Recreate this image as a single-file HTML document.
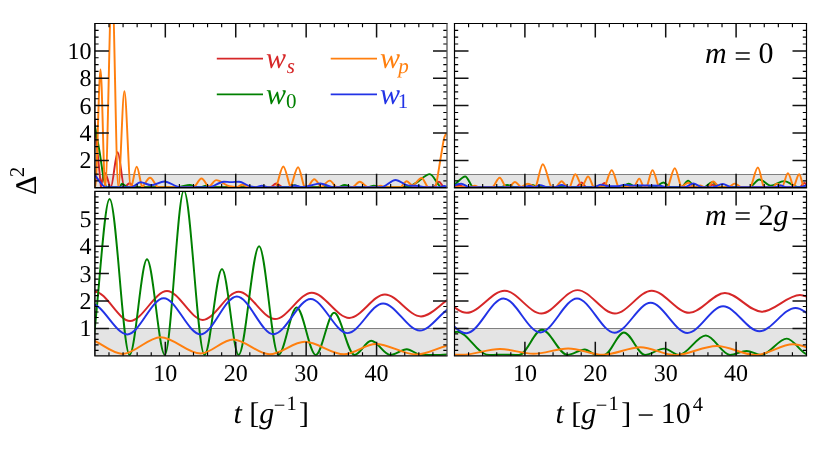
<!DOCTYPE html>
<html><head><meta charset="utf-8"><title>Figure</title>
<style>
html,body{margin:0;padding:0;background:#fff;}
body{width:830px;height:451px;overflow:hidden;font-family:"Liberation Serif",serif;}
svg{display:block;}
text{font-family:"Liberation Serif",serif;fill:#000;text-rendering:geometricPrecision;}
svg{will-change:transform;}
.i{font-style:italic;}
</style></head><body>
<svg width="830" height="451" viewBox="0 0 830 451">
<rect width="830" height="451" fill="#fff"/>
<defs>
<clipPath id="cTL"><rect x="94.9" y="23.5" width="352.10" height="164.25"/></clipPath>
<clipPath id="cTR"><rect x="454.5" y="23.5" width="352.00" height="164.25"/></clipPath>
<clipPath id="cBL"><rect x="94.9" y="191.4" width="352.10" height="164.45"/></clipPath>
<clipPath id="cBR"><rect x="454.5" y="191.4" width="352.00" height="164.45"/></clipPath>
</defs>
<g id="pTL">
<rect x="94.9" y="174.06" width="352.10" height="13.69" fill="#e4e4e4"/><path d="M94.9 174.50 H447.0" stroke="#808080" stroke-width="1" fill="none"/>
<path d="M92.5 100.0C93.3 108.3 94.1 116.7 94.9 125.0C95.7 133.3 96.5 141.8 97.3 150.0C98.5 162.6 99.8 175.0 101.0 187.2C102.3 179.2 103.7 173.0 105.0 173.0C106.9 173.0 108.9 187.2 110.8 187.2C113.1 187.2 115.4 152.2 117.7 152.2C119.9 152.2 122.2 187.2 124.4 187.2C126.1 187.2 127.8 183.3 129.5 183.3C131.0 183.3 132.5 186.4 134.0 187.2H271.0C272.7 186.4 274.5 183.4 276.2 183.4C278.3 183.4 280.3 186.4 282.4 187.2H434.1C435.7 186.1 437.3 181.8 438.9 181.8C440.5 181.8 442.1 186.1 443.7 187.2H447.0" stroke="#d62728" stroke-width="1.95" fill="none" stroke-linejoin="round" clip-path="url(#cTL)"/>
<path d="M91.0 108.0C92.3 114.0 93.6 120.2 94.9 126.8C96.5 134.7 98.0 142.8 99.6 151.9C101.1 160.4 102.5 174.1 104.0 179.8C104.8 183.0 105.7 187.2 106.5 187.2H119.6C120.4 187.2 121.2 183.6 122.0 183.6C123.9 183.6 125.7 187.2 127.6 187.2H178.0C181.9 187.2 185.9 184.9 189.8 184.9C192.3 184.9 194.9 187.2 197.4 187.2H201.0C202.7 187.2 204.3 185.7 206.0 185.7C207.7 185.7 209.3 187.2 211.0 187.2H288.0C290.1 187.2 292.2 185.2 294.3 185.2C296.2 185.2 298.1 187.2 300.0 187.2H338.0C340.2 187.2 342.4 184.9 344.6 184.9C347.1 184.9 349.5 187.2 352.0 187.2H368.0C370.0 187.2 371.9 185.6 373.9 185.6C375.9 185.6 378.0 187.2 380.0 187.2H406.0C409.4 187.2 412.9 184.5 416.3 182.8C420.8 180.5 425.3 174.1 429.8 174.1C433.8 174.1 437.8 187.2 441.8 187.2H447.0" stroke="#008000" stroke-width="1.95" fill="none" stroke-linejoin="round" clip-path="url(#cTL)"/>
<path d="M90.0 187.2H95.3C97.0 187.2 98.8 69.4 100.5 69.4C102.1 69.4 103.6 187.2 105.2 187.2C107.5 187.2 109.7 -17.0 112.0 -17.0C114.1 -17.0 116.2 187.2 118.3 187.2C120.3 187.2 122.4 91.2 124.4 91.2C126.5 91.2 128.7 187.2 130.8 187.2C132.8 187.2 134.7 166.8 136.7 166.8C138.5 166.8 140.3 183.1 142.1 187.2C144.7 185.3 147.4 177.7 150.0 177.7C152.6 177.7 155.2 185.3 157.8 187.2H194.1C196.6 185.4 199.0 178.4 201.5 178.4C203.9 178.4 206.4 185.4 208.8 187.2C211.3 185.7 213.8 180.1 216.3 180.1C220.6 180.1 225.0 185.4 229.3 186.2C231.8 186.7 234.4 187.0 236.9 187.2C238.7 186.7 240.5 184.7 242.3 184.7C244.5 184.7 246.6 186.7 248.8 187.2H275.9C278.4 183.0 280.8 166.5 283.3 166.5C285.7 166.5 288.1 183.0 290.5 187.2C293.0 183.2 295.6 167.3 298.1 167.3C300.2 167.3 302.4 183.2 304.5 187.2H307.5C309.8 185.6 312.0 179.3 314.3 179.3C316.6 179.3 319.0 185.6 321.3 187.2C324.1 185.8 326.9 180.6 329.7 180.6C332.0 180.6 334.2 185.8 336.5 187.2H352.8C355.1 186.1 357.5 181.8 359.8 181.8C362.3 181.8 364.9 186.1 367.4 187.2H376.0C377.5 186.9 379.1 185.8 380.6 185.8C382.1 185.8 383.5 186.9 385.0 187.2H400.8C402.7 186.0 404.7 181.3 406.6 181.3C408.5 181.3 410.5 185.2 412.4 185.2C415.5 185.2 418.5 178.0 421.6 178.0C423.7 178.0 425.7 185.3 427.8 187.2H435.5C437.3 180.9 439.2 166.1 441.0 156.0C442.2 149.4 443.4 139.3 444.6 136.6C445.4 134.8 446.2 133.3 447.0 133.0C447.7 132.7 448.3 132.5 449.0 132.5" stroke="#ff7f0e" stroke-width="1.95" fill="none" stroke-linejoin="round" clip-path="url(#cTL)"/>
<path d="M90.0 170.5C91.6 171.8 93.3 173.4 94.9 175.2C96.6 177.1 98.3 180.1 100.0 182.0C101.7 183.9 103.5 187.1 105.2 187.1H131.3C134.4 187.1 137.4 182.3 140.5 182.3C144.1 182.3 147.7 185.2 151.3 185.2C155.6 185.2 160.0 181.4 164.3 181.4C169.5 181.4 174.8 187.1 180.0 187.1H209.3C214.1 187.1 219.0 181.7 223.8 181.7C226.2 181.7 228.6 182.1 231.0 182.1C233.7 182.1 236.3 181.7 239.0 181.7C242.6 181.7 246.3 185.5 249.9 186.2C251.9 186.6 254.0 187.1 256.0 187.1C257.9 187.1 259.9 185.8 261.8 185.8C263.9 185.8 265.9 187.1 268.0 187.1H290.0C291.7 187.1 293.3 185.4 295.0 185.4C297.0 185.4 299.0 187.1 301.0 187.1C303.3 187.1 305.5 186.6 307.8 186.2C311.9 185.6 316.1 183.4 320.2 183.4C324.4 183.4 328.5 187.1 332.7 187.1H381.5C386.2 187.1 390.8 179.9 395.5 179.9C399.9 179.9 404.2 185.4 408.6 185.6C411.2 185.7 413.7 185.7 416.3 185.8C419.2 185.9 422.1 187.1 425.0 187.1H440.0C441.4 187.1 442.8 186.0 444.2 186.0C445.1 186.0 446.1 186.5 447.0 187.1" stroke="#2233e6" stroke-width="1.95" fill="none" stroke-linejoin="round" clip-path="url(#cTL)"/>
<path d="M165.32 23.5 v14.0 M165.32 187.75 v-14.0 M235.74 23.5 v14.0 M235.74 187.75 v-14.0 M306.16 23.5 v14.0 M306.16 187.75 v-14.0 M376.58 23.5 v14.0 M376.58 187.75 v-14.0 M94.9 160.38 h14.0 M447.0 160.38 h-14.0 M94.9 133.00 h14.0 M447.0 133.00 h-14.0 M94.9 105.62 h14.0 M447.0 105.62 h-14.0 M94.9 78.25 h14.0 M447.0 78.25 h-14.0 M94.9 50.88 h14.0 M447.0 50.88 h-14.0" stroke="#111" stroke-width="1.5" fill="none"/><path d="M108.98 23.5 v3.7 M108.98 187.75 v-3.7 M123.07 23.5 v3.7 M123.07 187.75 v-3.7 M137.15 23.5 v3.7 M137.15 187.75 v-3.7 M151.24 23.5 v3.7 M151.24 187.75 v-3.7 M179.40 23.5 v3.7 M179.40 187.75 v-3.7 M193.49 23.5 v3.7 M193.49 187.75 v-3.7 M207.57 23.5 v3.7 M207.57 187.75 v-3.7 M221.66 23.5 v3.7 M221.66 187.75 v-3.7 M249.82 23.5 v3.7 M249.82 187.75 v-3.7 M263.91 23.5 v3.7 M263.91 187.75 v-3.7 M277.99 23.5 v3.7 M277.99 187.75 v-3.7 M292.08 23.5 v3.7 M292.08 187.75 v-3.7 M320.24 23.5 v3.7 M320.24 187.75 v-3.7 M334.33 23.5 v3.7 M334.33 187.75 v-3.7 M348.41 23.5 v3.7 M348.41 187.75 v-3.7 M362.50 23.5 v3.7 M362.50 187.75 v-3.7 M390.66 23.5 v3.7 M390.66 187.75 v-3.7 M404.75 23.5 v3.7 M404.75 187.75 v-3.7 M418.83 23.5 v3.7 M418.83 187.75 v-3.7 M432.92 23.5 v3.7 M432.92 187.75 v-3.7 M94.9 180.91 h3.7 M447.0 180.91 h-3.7 M94.9 174.06 h3.7 M447.0 174.06 h-3.7 M94.9 167.22 h3.7 M447.0 167.22 h-3.7 M94.9 153.53 h3.7 M447.0 153.53 h-3.7 M94.9 146.69 h3.7 M447.0 146.69 h-3.7 M94.9 139.84 h3.7 M447.0 139.84 h-3.7 M94.9 126.16 h3.7 M447.0 126.16 h-3.7 M94.9 119.31 h3.7 M447.0 119.31 h-3.7 M94.9 112.47 h3.7 M447.0 112.47 h-3.7 M94.9 98.78 h3.7 M447.0 98.78 h-3.7 M94.9 91.94 h3.7 M447.0 91.94 h-3.7 M94.9 85.09 h3.7 M447.0 85.09 h-3.7 M94.9 71.41 h3.7 M447.0 71.41 h-3.7 M94.9 64.56 h3.7 M447.0 64.56 h-3.7 M94.9 57.72 h3.7 M447.0 57.72 h-3.7 M94.9 44.03 h3.7 M447.0 44.03 h-3.7 M94.9 37.19 h3.7 M447.0 37.19 h-3.7 M94.9 30.34 h3.7 M447.0 30.34 h-3.7" stroke="#000" stroke-width="1.15" fill="none"/>
<path d="M94.30000000000001 23.5 H447.6" stroke="#000" stroke-width="1.2" fill="none"/><path d="M94.30000000000001 187.75 H447.6" stroke="#000" stroke-width="1.4" fill="none"/><path d="M94.9 23.5 V187.75" stroke="#000" stroke-width="1.5" fill="none"/><path d="M447.0 23.5 V187.75" stroke="#555" stroke-width="1.3" fill="none"/>
</g>
<g id="pTR">
<rect x="454.5" y="174.06" width="352.00" height="13.69" fill="#e4e4e4"/><path d="M454.5 174.50 H806.5" stroke="#808080" stroke-width="1" fill="none"/>
<path d="M454.5 187.2C456.2 186.8 457.9 185.4 459.6 185.4C461.1 185.4 462.5 186.8 464.0 187.2H576.7C578.3 186.2 580.0 182.4 581.6 182.4C583.0 182.4 584.5 186.2 585.9 187.2H600.0C601.5 186.3 602.9 183.0 604.4 183.0C605.8 183.0 607.3 186.3 608.7 187.2H708.0C709.6 186.7 711.2 184.8 712.8 184.8C714.2 184.8 715.6 186.7 717.0 187.2H800.0C801.4 186.3 802.9 183.0 804.3 183.0C805.1 183.0 805.8 183.8 806.6 185.0" stroke="#d62728" stroke-width="1.95" fill="none" stroke-linejoin="round" clip-path="url(#cTR)"/>
<path d="M449.0 187.2C450.8 186.5 452.7 185.6 454.5 184.6C458.1 182.6 461.6 176.4 465.2 176.4C468.0 176.4 470.7 187.2 473.5 187.2H500.8C503.0 187.2 505.1 184.9 507.3 184.9C509.8 184.9 512.4 187.2 514.9 187.2H526.0C528.1 187.2 530.1 184.9 532.2 184.9C534.1 184.9 536.1 187.2 538.0 187.2H556.0C558.0 187.2 560.0 185.8 562.0 185.8C564.0 185.8 566.0 187.2 568.0 187.2H621.0C623.6 187.2 626.1 183.7 628.7 183.7C631.3 183.7 633.9 187.2 636.5 187.2H654.7C657.6 187.2 660.5 182.4 663.4 182.4C665.8 182.4 668.1 187.2 670.5 187.2H681.5C683.7 187.2 685.9 180.6 688.1 180.6C690.4 180.6 692.7 187.2 695.0 187.2H704.0C706.7 187.2 709.3 182.1 712.0 182.1C714.8 182.1 717.7 187.2 720.5 187.2H749.3C752.7 187.2 756.0 179.4 759.4 179.4C763.2 179.4 767.0 185.7 770.8 185.7C775.2 185.7 779.7 181.1 784.1 181.1C788.9 181.1 793.8 187.2 798.6 187.2C801.3 187.2 803.9 187.1 806.6 186.4" stroke="#008000" stroke-width="1.95" fill="none" stroke-linejoin="round" clip-path="url(#cTR)"/>
<path d="M454.5 187.2H470.0C471.6 186.9 473.2 185.8 474.8 185.8C476.2 185.8 477.6 186.9 479.0 187.2H492.7C495.0 185.3 497.4 177.7 499.7 177.7C501.7 177.7 503.7 185.3 505.7 187.2H509.5C511.3 186.1 513.1 181.9 514.9 181.9C516.9 181.9 518.9 186.1 520.9 187.2C523.2 186.5 525.6 183.8 527.9 183.8C530.5 183.8 533.0 186.5 535.6 187.2C538.0 182.6 540.4 164.3 542.8 164.3C545.6 164.3 548.5 182.6 551.3 187.2H556.1C557.9 186.0 559.8 181.3 561.6 181.3C563.4 181.3 565.2 186.0 567.0 187.2H569.7C571.6 184.6 573.4 174.3 575.3 174.3C577.6 174.3 579.9 185.9 582.2 185.9C584.2 185.9 586.1 176.4 588.1 176.4C589.9 176.4 591.8 185.0 593.6 187.2H604.4C606.8 183.8 609.3 170.2 611.7 170.2C614.0 170.2 616.2 183.8 618.5 187.2H634.1C635.8 185.4 637.6 178.6 639.3 178.6C640.7 178.6 642.1 185.4 643.5 187.2H646.6C648.6 183.8 650.5 170.2 652.5 170.2C654.7 170.2 656.8 183.8 659.0 187.2H667.7C670.1 183.4 672.4 168.3 674.8 168.3C677.0 168.3 679.1 183.4 681.3 187.2C683.6 186.3 686.0 182.7 688.3 182.7C690.5 182.7 692.6 186.3 694.8 187.2H697.0C698.1 186.8 699.1 185.5 700.2 185.5C701.5 185.5 702.7 186.8 704.0 187.2H708.2C709.9 186.0 711.5 181.4 713.2 181.4C715.1 181.4 717.0 186.0 718.9 187.2H729.0C730.9 186.4 732.8 183.6 734.7 183.6C736.8 183.6 738.9 186.4 741.0 187.2H750.5C753.0 183.2 755.4 167.5 757.9 167.5C759.9 167.5 761.8 183.2 763.8 187.2H773.3C774.4 186.4 775.4 183.6 776.5 183.6C778.4 183.6 780.3 186.2 782.2 186.2C784.1 186.2 786.0 173.1 787.9 173.1C789.8 173.1 791.7 184.3 793.6 187.2C795.5 184.6 797.3 174.3 799.2 174.3C800.7 174.3 802.2 184.6 803.7 187.2H806.6" stroke="#ff7f0e" stroke-width="1.95" fill="none" stroke-linejoin="round" clip-path="url(#cTR)"/>
<path d="M454.5 185.7C456.7 184.3 459.0 183.7 461.2 183.7C463.9 183.7 466.6 187.1 469.3 187.1H524.0C526.0 187.1 528.0 186.0 530.0 186.0C531.7 186.0 533.3 187.1 535.0 187.1C536.8 187.1 538.6 185.1 540.4 185.1C542.6 185.1 544.8 187.1 547.0 187.1H555.0C557.2 187.1 559.4 184.9 561.6 184.9C563.7 184.9 565.9 187.1 568.0 187.1H594.0C596.4 187.1 598.7 184.6 601.1 184.6C603.4 184.6 605.7 186.2 608.0 186.2H618.0C620.3 186.2 622.6 184.6 624.9 184.6C626.9 184.6 629.0 185.6 631.0 185.6C635.7 185.6 640.3 185.5 645.0 185.5C650.0 185.5 655.0 185.6 660.0 185.8C662.0 185.9 664.0 187.1 666.0 187.1H685.0C687.7 187.1 690.5 183.5 693.2 183.5C696.3 183.5 699.3 187.1 702.4 187.1H712.6C716.0 187.1 719.3 184.0 722.7 184.0C725.7 184.0 728.6 187.1 731.6 187.1H775.0C777.0 187.1 778.9 185.5 780.9 185.5C782.6 185.5 784.3 187.1 786.0 187.1H800.0C802.2 187.1 804.4 186.0 806.6 185.2" stroke="#2233e6" stroke-width="1.95" fill="none" stroke-linejoin="round" clip-path="url(#cTR)"/>
<path d="M524.90 23.5 v14.0 M524.90 187.75 v-14.0 M595.30 23.5 v14.0 M595.30 187.75 v-14.0 M665.70 23.5 v14.0 M665.70 187.75 v-14.0 M736.10 23.5 v14.0 M736.10 187.75 v-14.0 M454.5 160.38 h14.0 M806.5 160.38 h-14.0 M454.5 133.00 h14.0 M806.5 133.00 h-14.0 M454.5 105.62 h14.0 M806.5 105.62 h-14.0 M454.5 78.25 h14.0 M806.5 78.25 h-14.0 M454.5 50.88 h14.0 M806.5 50.88 h-14.0" stroke="#111" stroke-width="1.5" fill="none"/><path d="M468.58 23.5 v3.7 M468.58 187.75 v-3.7 M482.66 23.5 v3.7 M482.66 187.75 v-3.7 M496.74 23.5 v3.7 M496.74 187.75 v-3.7 M510.82 23.5 v3.7 M510.82 187.75 v-3.7 M538.98 23.5 v3.7 M538.98 187.75 v-3.7 M553.06 23.5 v3.7 M553.06 187.75 v-3.7 M567.14 23.5 v3.7 M567.14 187.75 v-3.7 M581.22 23.5 v3.7 M581.22 187.75 v-3.7 M609.38 23.5 v3.7 M609.38 187.75 v-3.7 M623.46 23.5 v3.7 M623.46 187.75 v-3.7 M637.54 23.5 v3.7 M637.54 187.75 v-3.7 M651.62 23.5 v3.7 M651.62 187.75 v-3.7 M679.78 23.5 v3.7 M679.78 187.75 v-3.7 M693.86 23.5 v3.7 M693.86 187.75 v-3.7 M707.94 23.5 v3.7 M707.94 187.75 v-3.7 M722.02 23.5 v3.7 M722.02 187.75 v-3.7 M750.18 23.5 v3.7 M750.18 187.75 v-3.7 M764.26 23.5 v3.7 M764.26 187.75 v-3.7 M778.34 23.5 v3.7 M778.34 187.75 v-3.7 M792.42 23.5 v3.7 M792.42 187.75 v-3.7 M454.5 180.91 h3.7 M806.5 180.91 h-3.7 M454.5 174.06 h3.7 M806.5 174.06 h-3.7 M454.5 167.22 h3.7 M806.5 167.22 h-3.7 M454.5 153.53 h3.7 M806.5 153.53 h-3.7 M454.5 146.69 h3.7 M806.5 146.69 h-3.7 M454.5 139.84 h3.7 M806.5 139.84 h-3.7 M454.5 126.16 h3.7 M806.5 126.16 h-3.7 M454.5 119.31 h3.7 M806.5 119.31 h-3.7 M454.5 112.47 h3.7 M806.5 112.47 h-3.7 M454.5 98.78 h3.7 M806.5 98.78 h-3.7 M454.5 91.94 h3.7 M806.5 91.94 h-3.7 M454.5 85.09 h3.7 M806.5 85.09 h-3.7 M454.5 71.41 h3.7 M806.5 71.41 h-3.7 M454.5 64.56 h3.7 M806.5 64.56 h-3.7 M454.5 57.72 h3.7 M806.5 57.72 h-3.7 M454.5 44.03 h3.7 M806.5 44.03 h-3.7 M454.5 37.19 h3.7 M806.5 37.19 h-3.7 M454.5 30.34 h3.7 M806.5 30.34 h-3.7" stroke="#000" stroke-width="1.15" fill="none"/>
<path d="M453.9 23.5 H807.1" stroke="#000" stroke-width="1.2" fill="none"/><path d="M453.9 187.75 H807.1" stroke="#000" stroke-width="1.4" fill="none"/><path d="M454.5 23.5 V187.75" stroke="#000" stroke-width="1.2" fill="none"/><path d="M806.5 23.5 V187.75" stroke="#000" stroke-width="1.2" fill="none"/>
</g>
<g id="pBL">
<rect x="94.9" y="328.44" width="352.10" height="27.41" fill="#e4e4e4"/><path d="M94.9 328.50 H447.0" stroke="#808080" stroke-width="1" fill="none"/>
<path d="M58.0 321.0C70.3 301.0 82.6 291.7 94.9 291.7C106.6 291.7 118.4 321.0 130.1 321.0C142.4 321.0 154.7 291.0 167.0 291.0C178.9 291.0 190.9 319.9 202.8 319.9C214.7 319.9 226.7 291.7 238.6 291.7C250.7 291.7 262.9 319.0 275.0 319.0C287.3 319.0 299.5 292.7 311.8 292.7C324.3 292.7 336.8 317.9 349.3 317.9C361.2 317.9 373.0 294.5 384.9 294.5C396.9 294.5 409.0 316.4 421.0 316.4C433.5 316.4 446.0 295.5 458.5 295.5C470.7 295.5 482.8 303.0 495.0 317.0" stroke="#d62728" stroke-width="1.95" fill="none" stroke-linejoin="round" clip-path="url(#cBL)"/>
<path d="M75.0 250.0C79.8 315.6 84.7 355.4 89.5 355.4C96.2 355.4 102.9 198.9 109.6 198.9C116.3 198.9 122.9 354.9 129.6 354.9C135.4 354.9 141.2 259.3 147.0 259.3C152.9 259.3 158.9 354.9 164.8 354.9C171.2 354.9 177.5 190.6 183.9 190.6C190.8 190.6 197.6 354.9 204.5 354.9C210.3 354.9 216.2 268.9 222.0 268.9C227.5 268.9 233.1 354.9 238.6 354.9C245.4 354.9 252.3 246.3 259.1 246.3C265.5 246.3 272.0 354.9 278.4 354.9C284.5 354.9 290.6 307.4 296.7 307.4C303.1 307.4 309.4 354.9 315.8 354.9C321.9 354.9 328.0 312.8 334.1 312.8C340.9 312.8 347.7 354.9 354.5 354.9C360.1 354.9 365.6 340.7 371.2 340.7C377.6 340.7 383.9 354.9 390.3 354.9C395.8 354.9 401.3 349.2 406.8 349.2C411.5 349.2 416.1 354.7 420.8 354.8C425.5 354.9 430.3 355.0 435.0 355.0C439.0 355.0 443.0 354.7 447.0 354.4C448.7 354.3 450.3 354.1 452.0 354.0" stroke="#008000" stroke-width="1.95" fill="none" stroke-linejoin="round" clip-path="url(#cBL)"/>
<path d="M46.0 354.0C58.8 343.3 71.7 338.0 84.5 338.0C97.2 338.0 109.8 353.9 122.5 353.9C135.2 353.9 147.8 337.2 160.5 337.2C173.9 337.2 187.2 353.5 200.6 353.5C211.4 353.5 222.3 339.4 233.1 339.4C245.2 339.4 257.4 354.3 269.5 354.3C281.2 354.3 293.0 341.8 304.7 341.8C317.8 341.8 330.9 354.3 344.0 354.3C354.6 354.3 365.2 343.9 375.8 343.9C389.2 343.9 402.6 354.5 416.0 354.5C429.3 354.5 442.7 344.2 456.0 344.2C468.7 344.2 481.3 347.8 494.0 354.5" stroke="#ff7f0e" stroke-width="1.95" fill="none" stroke-linejoin="round" clip-path="url(#cBL)"/>
<path d="M54.5 334.4C66.6 313.8 78.8 303.5 90.9 303.5C103.0 303.5 115.2 334.4 127.3 334.4C139.4 334.4 151.6 298.2 163.7 298.2C176.0 298.2 188.3 334.4 200.6 334.4C212.7 334.4 224.7 296.5 236.8 296.5C249.0 296.5 261.3 334.2 273.5 334.2C285.9 334.2 298.3 299.0 310.7 299.0C322.9 299.0 335.2 333.1 347.4 333.1C359.3 333.1 371.2 303.4 383.1 303.4C395.3 303.4 407.6 330.5 419.8 330.5C431.9 330.5 443.9 306.0 456.0 306.0C468.0 306.0 480.0 314.5 492.0 331.0" stroke="#2233e6" stroke-width="1.95" fill="none" stroke-linejoin="round" clip-path="url(#cBL)"/>
<path d="M165.32 191.4 v14.0 M165.32 355.85 v-14.0 M235.74 191.4 v14.0 M235.74 355.85 v-14.0 M306.16 191.4 v14.0 M306.16 355.85 v-14.0 M376.58 191.4 v14.0 M376.58 355.85 v-14.0 M94.9 328.44 h14.0 M447.0 328.44 h-14.0 M94.9 301.03 h14.0 M447.0 301.03 h-14.0 M94.9 273.62 h14.0 M447.0 273.62 h-14.0 M94.9 246.22 h14.0 M447.0 246.22 h-14.0 M94.9 218.81 h14.0 M447.0 218.81 h-14.0" stroke="#111" stroke-width="1.5" fill="none"/><path d="M108.98 191.4 v3.7 M108.98 355.85 v-3.7 M123.07 191.4 v3.7 M123.07 355.85 v-3.7 M137.15 191.4 v3.7 M137.15 355.85 v-3.7 M151.24 191.4 v3.7 M151.24 355.85 v-3.7 M179.40 191.4 v3.7 M179.40 355.85 v-3.7 M193.49 191.4 v3.7 M193.49 355.85 v-3.7 M207.57 191.4 v3.7 M207.57 355.85 v-3.7 M221.66 191.4 v3.7 M221.66 355.85 v-3.7 M249.82 191.4 v3.7 M249.82 355.85 v-3.7 M263.91 191.4 v3.7 M263.91 355.85 v-3.7 M277.99 191.4 v3.7 M277.99 355.85 v-3.7 M292.08 191.4 v3.7 M292.08 355.85 v-3.7 M320.24 191.4 v3.7 M320.24 355.85 v-3.7 M334.33 191.4 v3.7 M334.33 355.85 v-3.7 M348.41 191.4 v3.7 M348.41 355.85 v-3.7 M362.50 191.4 v3.7 M362.50 355.85 v-3.7 M390.66 191.4 v3.7 M390.66 355.85 v-3.7 M404.75 191.4 v3.7 M404.75 355.85 v-3.7 M418.83 191.4 v3.7 M418.83 355.85 v-3.7 M432.92 191.4 v3.7 M432.92 355.85 v-3.7 M94.9 350.37 h3.7 M447.0 350.37 h-3.7 M94.9 344.89 h3.7 M447.0 344.89 h-3.7 M94.9 339.41 h3.7 M447.0 339.41 h-3.7 M94.9 333.92 h3.7 M447.0 333.92 h-3.7 M94.9 322.96 h3.7 M447.0 322.96 h-3.7 M94.9 317.48 h3.7 M447.0 317.48 h-3.7 M94.9 312.00 h3.7 M447.0 312.00 h-3.7 M94.9 306.52 h3.7 M447.0 306.52 h-3.7 M94.9 295.55 h3.7 M447.0 295.55 h-3.7 M94.9 290.07 h3.7 M447.0 290.07 h-3.7 M94.9 284.59 h3.7 M447.0 284.59 h-3.7 M94.9 279.11 h3.7 M447.0 279.11 h-3.7 M94.9 268.14 h3.7 M447.0 268.14 h-3.7 M94.9 262.66 h3.7 M447.0 262.66 h-3.7 M94.9 257.18 h3.7 M447.0 257.18 h-3.7 M94.9 251.70 h3.7 M447.0 251.70 h-3.7 M94.9 240.74 h3.7 M447.0 240.74 h-3.7 M94.9 235.25 h3.7 M447.0 235.25 h-3.7 M94.9 229.77 h3.7 M447.0 229.77 h-3.7 M94.9 224.29 h3.7 M447.0 224.29 h-3.7 M94.9 213.33 h3.7 M447.0 213.33 h-3.7 M94.9 207.84 h3.7 M447.0 207.84 h-3.7 M94.9 202.36 h3.7 M447.0 202.36 h-3.7 M94.9 196.88 h3.7 M447.0 196.88 h-3.7" stroke="#000" stroke-width="1.15" fill="none"/>
<path d="M94.30000000000001 191.4 H447.6" stroke="#000" stroke-width="1.2" fill="none"/><path d="M94.30000000000001 355.85 H447.6" stroke="#000" stroke-width="1.4" fill="none"/><path d="M94.9 191.4 V355.85" stroke="#000" stroke-width="1.5" fill="none"/><path d="M447.0 191.4 V355.85" stroke="#555" stroke-width="1.3" fill="none"/>
</g>
<g id="pBR">
<rect x="454.5" y="328.44" width="352.00" height="27.41" fill="#e4e4e4"/><path d="M454.5 328.50 H806.5" stroke="#808080" stroke-width="1" fill="none"/>
<path d="M393.0 313.0C405.3 298.3 417.7 291.0 430.0 291.0C442.2 291.0 454.5 312.8 466.7 312.8C479.3 312.8 492.0 290.7 504.6 290.7C516.9 290.7 529.1 313.5 541.4 313.5C553.4 313.5 565.5 290.1 577.5 290.1C590.0 290.1 602.4 313.5 614.9 313.5C627.2 313.5 639.4 290.7 651.7 290.7C664.2 290.7 676.7 312.8 689.2 312.8C701.1 312.8 713.0 293.0 724.9 293.0C737.1 293.0 749.4 311.7 761.6 311.7C774.4 311.7 787.2 295.0 800.0 295.0C812.3 295.0 824.7 311.0 837.0 311.0C849.3 311.0 861.7 305.7 874.0 295.0" stroke="#d62728" stroke-width="1.95" fill="none" stroke-linejoin="round" clip-path="url(#cBR)"/>
<path d="M440.0 345.0C445.8 337.2 451.7 331.8 457.5 331.8C467.2 331.8 476.8 353.3 486.5 354.6C488.0 354.8 489.5 355.0 491.0 355.0C494.8 355.0 498.6 354.6 502.4 354.6C507.9 354.6 513.5 355.0 519.0 355.0C526.7 355.0 534.3 329.8 542.0 329.8C550.5 329.8 559.0 354.9 567.5 354.9C573.3 354.9 579.0 349.5 584.8 349.5C588.9 349.5 592.9 355.1 597.0 355.1H604.0C610.6 355.1 617.3 332.5 623.9 332.5C630.9 332.5 638.0 354.9 645.0 354.9C651.4 354.9 657.8 348.6 664.2 348.6C669.1 348.6 674.1 354.9 679.0 354.9C687.9 354.9 696.9 335.5 705.8 335.5C713.9 335.5 721.9 354.9 730.0 354.9C735.5 354.9 741.1 350.9 746.6 350.9C751.5 350.9 756.3 354.9 761.2 354.9C769.7 354.9 778.3 338.6 786.8 338.6C794.2 338.6 801.6 355.0 809.0 355.0C816.0 355.0 823.0 349.9 830.0 340.0" stroke="#008000" stroke-width="1.95" fill="none" stroke-linejoin="round" clip-path="url(#cBR)"/>
<path d="M440.0 354.8H462.0C474.6 354.8 487.3 349.0 499.9 349.0C511.1 349.0 522.3 353.7 533.5 353.7C545.1 353.7 556.6 348.5 568.2 348.5C579.8 348.5 591.3 354.8 602.9 354.8C615.4 354.8 628.0 347.3 640.5 347.3C652.0 347.3 663.5 355.1 675.0 355.1C688.9 355.1 702.7 346.0 716.6 346.0C729.7 346.0 742.7 355.0 755.8 355.0C768.2 355.0 780.6 344.3 793.0 344.3C806.0 344.3 819.0 355.0 832.0 355.0C844.7 355.0 857.3 351.2 870.0 344.0" stroke="#ff7f0e" stroke-width="1.95" fill="none" stroke-linejoin="round" clip-path="url(#cBR)"/>
<path d="M384.0 333.0C397.7 311.8 411.3 301.0 425.0 301.0C438.8 301.0 452.7 333.2 466.5 333.2C478.8 333.2 491.2 298.5 503.5 298.5C515.8 298.5 528.0 332.4 540.3 332.4C552.5 332.4 564.8 298.5 577.0 298.5C589.5 298.5 602.0 332.7 614.5 332.7C626.5 332.7 638.6 302.8 650.6 302.8C662.9 302.8 675.1 332.9 687.4 332.9C699.3 332.9 711.2 306.3 723.1 306.3C735.2 306.3 747.3 331.3 759.4 331.3C771.4 331.3 783.5 307.9 795.5 307.9C807.7 307.9 819.8 331.0 832.0 331.0C844.0 331.0 856.0 323.2 868.0 308.0" stroke="#2233e6" stroke-width="1.95" fill="none" stroke-linejoin="round" clip-path="url(#cBR)"/>
<path d="M524.90 191.4 v14.0 M524.90 355.85 v-14.0 M595.30 191.4 v14.0 M595.30 355.85 v-14.0 M665.70 191.4 v14.0 M665.70 355.85 v-14.0 M736.10 191.4 v14.0 M736.10 355.85 v-14.0 M454.5 328.44 h14.0 M806.5 328.44 h-14.0 M454.5 301.03 h14.0 M806.5 301.03 h-14.0 M454.5 273.62 h14.0 M806.5 273.62 h-14.0 M454.5 246.22 h14.0 M806.5 246.22 h-14.0 M454.5 218.81 h14.0 M806.5 218.81 h-14.0" stroke="#111" stroke-width="1.5" fill="none"/><path d="M468.58 191.4 v3.7 M468.58 355.85 v-3.7 M482.66 191.4 v3.7 M482.66 355.85 v-3.7 M496.74 191.4 v3.7 M496.74 355.85 v-3.7 M510.82 191.4 v3.7 M510.82 355.85 v-3.7 M538.98 191.4 v3.7 M538.98 355.85 v-3.7 M553.06 191.4 v3.7 M553.06 355.85 v-3.7 M567.14 191.4 v3.7 M567.14 355.85 v-3.7 M581.22 191.4 v3.7 M581.22 355.85 v-3.7 M609.38 191.4 v3.7 M609.38 355.85 v-3.7 M623.46 191.4 v3.7 M623.46 355.85 v-3.7 M637.54 191.4 v3.7 M637.54 355.85 v-3.7 M651.62 191.4 v3.7 M651.62 355.85 v-3.7 M679.78 191.4 v3.7 M679.78 355.85 v-3.7 M693.86 191.4 v3.7 M693.86 355.85 v-3.7 M707.94 191.4 v3.7 M707.94 355.85 v-3.7 M722.02 191.4 v3.7 M722.02 355.85 v-3.7 M750.18 191.4 v3.7 M750.18 355.85 v-3.7 M764.26 191.4 v3.7 M764.26 355.85 v-3.7 M778.34 191.4 v3.7 M778.34 355.85 v-3.7 M792.42 191.4 v3.7 M792.42 355.85 v-3.7 M454.5 350.37 h3.7 M806.5 350.37 h-3.7 M454.5 344.89 h3.7 M806.5 344.89 h-3.7 M454.5 339.41 h3.7 M806.5 339.41 h-3.7 M454.5 333.92 h3.7 M806.5 333.92 h-3.7 M454.5 322.96 h3.7 M806.5 322.96 h-3.7 M454.5 317.48 h3.7 M806.5 317.48 h-3.7 M454.5 312.00 h3.7 M806.5 312.00 h-3.7 M454.5 306.52 h3.7 M806.5 306.52 h-3.7 M454.5 295.55 h3.7 M806.5 295.55 h-3.7 M454.5 290.07 h3.7 M806.5 290.07 h-3.7 M454.5 284.59 h3.7 M806.5 284.59 h-3.7 M454.5 279.11 h3.7 M806.5 279.11 h-3.7 M454.5 268.14 h3.7 M806.5 268.14 h-3.7 M454.5 262.66 h3.7 M806.5 262.66 h-3.7 M454.5 257.18 h3.7 M806.5 257.18 h-3.7 M454.5 251.70 h3.7 M806.5 251.70 h-3.7 M454.5 240.74 h3.7 M806.5 240.74 h-3.7 M454.5 235.25 h3.7 M806.5 235.25 h-3.7 M454.5 229.77 h3.7 M806.5 229.77 h-3.7 M454.5 224.29 h3.7 M806.5 224.29 h-3.7 M454.5 213.33 h3.7 M806.5 213.33 h-3.7 M454.5 207.84 h3.7 M806.5 207.84 h-3.7 M454.5 202.36 h3.7 M806.5 202.36 h-3.7 M454.5 196.88 h3.7 M806.5 196.88 h-3.7" stroke="#000" stroke-width="1.15" fill="none"/>
<path d="M453.9 191.4 H807.1" stroke="#000" stroke-width="1.2" fill="none"/><path d="M453.9 355.85 H807.1" stroke="#000" stroke-width="1.4" fill="none"/><path d="M454.5 191.4 V355.85" stroke="#000" stroke-width="1.2" fill="none"/><path d="M806.5 191.4 V355.85" stroke="#000" stroke-width="1.2" fill="none"/>
</g>
<text x="91.5" y="168.28" font-size="24" text-anchor="end">2</text>
<text x="91.5" y="140.90" font-size="24" text-anchor="end">4</text>
<text x="91.5" y="113.53" font-size="24" text-anchor="end">6</text>
<text x="91.5" y="86.15" font-size="24" text-anchor="end">8</text>
<text x="91.5" y="58.77" font-size="24" text-anchor="end">10</text>
<text x="91.5" y="336.34" font-size="24" text-anchor="end">1</text>
<text x="91.5" y="308.93" font-size="24" text-anchor="end">2</text>
<text x="91.5" y="281.52" font-size="24" text-anchor="end">3</text>
<text x="91.5" y="254.12" font-size="24" text-anchor="end">4</text>
<text x="91.5" y="226.71" font-size="24" text-anchor="end">5</text>
<text x="165.32" y="381.3" font-size="24" text-anchor="middle">10</text>
<text x="235.74" y="381.3" font-size="24" text-anchor="middle">20</text>
<text x="306.16" y="381.3" font-size="24" text-anchor="middle">30</text>
<text x="376.58" y="381.3" font-size="24" text-anchor="middle">40</text>
<text x="524.90" y="381.3" font-size="24" text-anchor="middle">10</text>
<text x="595.30" y="381.3" font-size="24" text-anchor="middle">20</text>
<text x="665.70" y="381.3" font-size="24" text-anchor="middle">30</text>
<text x="736.10" y="381.3" font-size="24" text-anchor="middle">40</text>
<text id="xl1" x="233.4" y="422.5" font-size="30"><tspan class="i">t</tspan> [<tspan class="i">g</tspan><tspan font-size="20.5" dy="-10.8" dx="-0.5">−</tspan><tspan font-size="20.5" dy="-1.7" dx="1.2">1</tspan><tspan dy="12.5" dx="2.2">]</tspan></text>
<text id="xl2" x="555.5" y="422.9" font-size="30"><tspan class="i">t</tspan> [<tspan class="i">g</tspan><tspan font-size="20.5" dy="-10.8" dx="-0.5">−</tspan><tspan font-size="20.5" dy="-1.7" dx="1.2">1</tspan><tspan dy="12.5" dx="2.3">]</tspan><tspan dx="-1.3" dy="2.1"> −</tspan><tspan dx="-1" dy="-2.1"> 10</tspan><tspan font-size="20.5" dy="-11.7" dx="2">4</tspan></text>
<text id="yl" transform="translate(36.1,195) rotate(-90)" font-size="30">Δ<tspan font-size="21" dy="-11.7" dx="-1.5">2</tspan></text>
<text id="m0" x="705" y="62.9" font-size="30"><tspan class="i">m</tspan><tspan dy="3.2"> =</tspan><tspan dy="-3.2"> 0</tspan></text>
<text id="m2" x="705" y="224.7" font-size="30"><tspan class="i">m</tspan><tspan dy="1.6"> =</tspan><tspan dy="-1.6"> 2</tspan><tspan class="i">g</tspan></text>
<path d="M216.8 58.55 H263.0" stroke="#d62728" stroke-width="1.8"/><text x="266" y="67.8" font-size="30" style="fill:#d62728"><tspan class="i">w</tspan><tspan font-size="21" dy="4.7" dx="0.7" class="i">s</tspan></text>
<path d="M330.7 58.55 H377.0" stroke="#ff7f0e" stroke-width="1.8"/><text x="380" y="67.8" font-size="30" style="fill:#ff7f0e"><tspan class="i">w</tspan><tspan font-size="21" dy="4.7" dx="-1.8" class="i">p</tspan></text>
<path d="M216.8 94.3 H263.0" stroke="#008000" stroke-width="1.8"/><text x="266" y="103.6" font-size="30" style="fill:#008000"><tspan class="i">w</tspan><tspan font-size="21" dy="4.7" dx="0">0</tspan></text>
<path d="M330.7 94.3 H377.0" stroke="#2233e6" stroke-width="1.8"/><text x="380" y="103.6" font-size="30" style="fill:#2233e6"><tspan class="i">w</tspan><tspan font-size="21" dy="4.7" dx="-2.2">1</tspan></text>
</svg></body></html>
